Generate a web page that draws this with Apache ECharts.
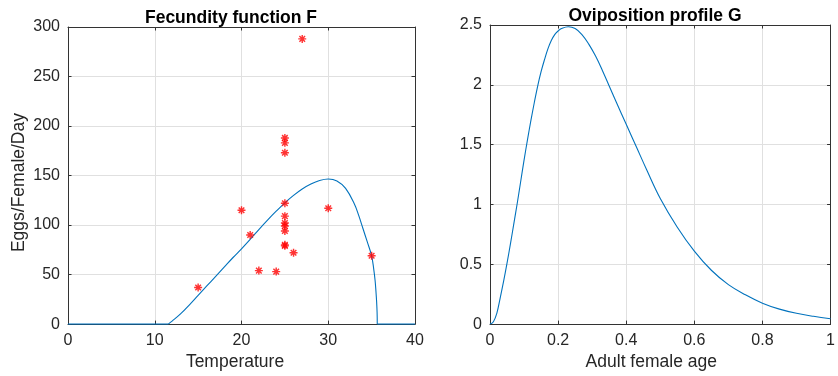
<!DOCTYPE html>
<html>
<head>
<meta charset="utf-8">
<script src="https://cdn.jsdelivr.net/npm/echarts@6/dist/echarts.min.js"></script>
<style>
html,body{margin:0;padding:0;background:#fff;}
#chart{width:838px;height:376px;}
</style>
</head>
<body>
<div id="chart"></div>
<script>
// ---- Data ----
// Left panel: observed fecundity points
var tempObs = [15, 20, 21, 22, 24, 25, 25, 25, 25, 25, 25, 25, 25, 25, 25, 26, 27, 30, 35];
var eggsObs = [37, 115, 90, 54, 53, 122, 109, 102, 99, 94, 80, 79, 188, 183, 173, 72, 288, 117, 69];
// Left panel: fitted fecundity curve F
var flatT = [0, 11.56, '-', 35.65, 40];
var flatF = [0, 0, '-', 0, 0];
var curveT = [11.56, 12, 13, 14, 15, 16, 17, 18, 19, 20, 21, 22, 23, 24, 25, 26, 27, 28, 29, 30, 31, 32, 33, 33.5, 34, 34.5, 35, 35.25, 35.4, 35.5, 35.58, 35.63, 35.65];
var curveF = [0, 3, 10.5, 19.5, 29, 38.5, 48, 57.5, 67, 76, 85.5, 95.5, 105, 114, 122.5, 130, 136.5, 141.5, 145, 146.5, 144.5, 137, 121.5, 110, 96.5, 83, 69, 55, 44, 33, 22, 12, 0];
// Right panel: oviposition profile G
var ageX = [0, 0.01, 0.02, 0.03, 0.04, 0.05, 0.06, 0.07, 0.08, 0.09, 0.10, 0.11, 0.12, 0.13, 0.14, 0.15, 0.16, 0.17, 0.18, 0.19, 0.20, 0.21, 0.23, 0.25, 0.27, 0.29, 0.31, 0.33, 0.35, 0.37, 0.40, 0.43, 0.46, 0.50, 0.55, 0.60, 0.65, 0.70, 0.75, 0.80, 0.85, 0.90, 0.95, 1.00];
var ovipG = [0, 0.02, 0.09, 0.22, 0.36, 0.51, 0.67, 0.84, 1.01, 1.19, 1.37, 1.54, 1.70, 1.85, 1.99, 2.11, 2.21, 2.30, 2.37, 2.42, 2.45, 2.47, 2.485, 2.47, 2.42, 2.34, 2.24, 2.12, 1.99, 1.86, 1.67, 1.48, 1.29, 1.05, 0.81, 0.61, 0.45, 0.33, 0.245, 0.175, 0.125, 0.09, 0.065, 0.045];
// Tick settings
var tempTicks = {min: 0, max: 40, interval: 10};
var eggTicks = {min: 0, max: 300, interval: 50};
var ageTicks = {min: 0, max: 1, interval: 0.2};
var gTicks = {min: 0, max: 2.5, interval: 0.5};
var titles = ['Fecundity function F', 'Oviposition profile G'];
var xNames = ['Temperature', 'Adult female age'];
var yNames = ['Eggs/Female/Day', ''];

function zip(a, b) { return a.map(function (v, i) { return [v, b[i]]; }); }

var AX = '#333333', TXT = '#262626', GRID = '#e0e0e0';
var FONT = '"Liberation Sans", Arial, Helvetica, sans-serif';

function mainAxis(gridIndex, ticks, pos, extra) {
  var o = {
    type: 'value', gridIndex: gridIndex, position: pos,
    min: ticks.min, max: ticks.max, interval: ticks.interval,
    axisLine: {show: true, onZero: false, lineStyle: {color: AX, width: 1}},
    axisTick: {show: true, inside: true, length: 3.5, lineStyle: {color: AX}},
    axisLabel: {show: true, color: TXT, fontSize: 16, fontFamily: FONT, margin: 8},
    splitLine: {show: true, lineStyle: {color: GRID, width: 1}}
  };
  for (var k in extra) o[k] = extra[k];
  return o;
}
function sideAxis(gridIndex, ticks, pos) {
  return {
    type: 'value', gridIndex: gridIndex, position: pos,
    min: ticks.min, max: ticks.max, interval: ticks.interval,
    axisLine: {show: true, onZero: false, lineStyle: {color: AX, width: 1}},
    axisTick: {show: true, inside: true, length: 3.5, lineStyle: {color: AX}},
    axisLabel: {show: false},
    splitLine: {show: false}
  };
}

var starPath = 'path://M-0.9,-5 L0.9,-5 L0.9,5 L-0.9,5 Z M-5,-0.9 L5,-0.9 L5,0.9 L-5,0.9 Z ' +
  'M-2.86,-4.14 L4.14,2.86 L2.86,4.14 L-4.14,-2.86 Z ' +
  'M-4.14,2.86 L2.86,-4.14 L4.14,-2.86 L-2.86,4.14 Z';

var chart = echarts.init(document.getElementById('chart'), null, {renderer: 'canvas'});
chart.setOption({
  animation: false,
  backgroundColor: '#ffffff',
  title: [
    {text: titles[0], left: 226, top: 4, textAlign: 'center',
     textStyle: {fontSize: 17.5, fontWeight: 'bold', color: '#000', fontFamily: FONT}},
    {text: titles[1], left: 650, top: 2, textAlign: 'center',
     textStyle: {fontSize: 17.5, fontWeight: 'bold', color: '#000', fontFamily: FONT}}
  ],
  grid: [
    {left: 68, top: 27, width: 347, height: 300, containLabel: false},
    {left: 490, top: 25, width: 350, height: 302, containLabel: false}
  ],
  xAxis: [
    mainAxis(0, tempTicks, 'bottom', {name: xNames[0], nameLocation: 'middle', nameGap: 26,
      nameTextStyle: {fontSize: 17.5, color: TXT, fontFamily: FONT, padding: [0, 13, 0, 0]}}),
    sideAxis(0, tempTicks, 'top'),
    mainAxis(1, ageTicks, 'bottom', {name: xNames[1], nameLocation: 'middle', nameGap: 26,
      nameTextStyle: {fontSize: 17.5, color: TXT, fontFamily: FONT, padding: [0, 18, 0, 0]}}),
    sideAxis(1, ageTicks, 'top')
  ],
  yAxis: [
    mainAxis(0, eggTicks, 'left', {name: yNames[0], nameLocation: 'middle', nameGap: 40, nameRotate: 90,
      nameTextStyle: {fontSize: 17.5, color: TXT, fontFamily: FONT, padding: [0, 14, 0, 0]}}),
    sideAxis(0, eggTicks, 'right'),
    mainAxis(1, gTicks, 'left', {}),
    sideAxis(1, gTicks, 'right')
  ],
  series: [
    {type: 'line', xAxisIndex: 0, yAxisIndex: 0, data: zip(flatT, flatF), showSymbol: false,
     connectNulls: false, lineStyle: {color: '#0072BD', width: 1.1}, z: 3},
    {type: 'line', xAxisIndex: 0, yAxisIndex: 0, data: zip(curveT, curveF), showSymbol: false,
     smooth: 0.4, lineStyle: {color: '#0072BD', width: 1.1}, z: 3},
    {type: 'scatter', xAxisIndex: 0, yAxisIndex: 0, data: zip(tempObs, eggsObs),
     symbol: starPath, symbolSize: 8, itemStyle: {color: '#ff0000'}, z: 4},
    {type: 'line', xAxisIndex: 2, yAxisIndex: 2, data: zip(ageX, ovipG), showSymbol: false,
     smooth: 0.4, lineStyle: {color: '#0072BD', width: 1.1}, z: 3}
  ]
});
</script>
</body>
</html>
